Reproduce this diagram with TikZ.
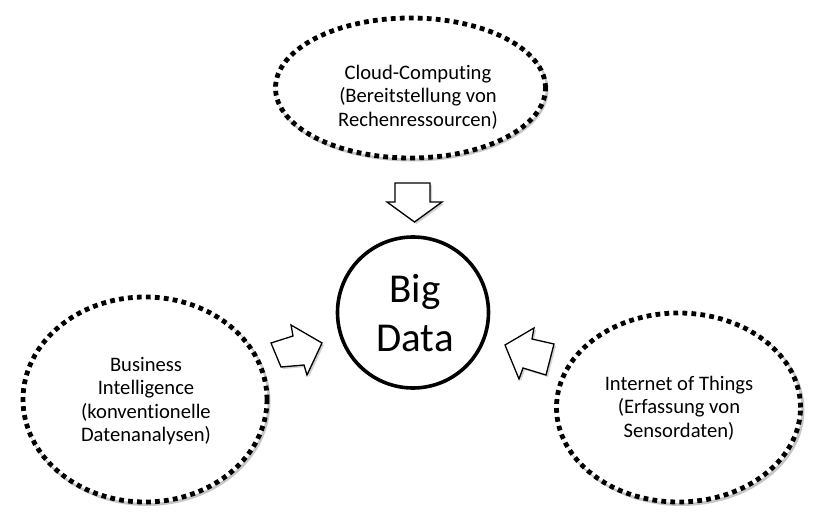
\documentclass[tikz,border=0pt]{standalone}
\usepackage{fontspec}
\setmainfont[Ligatures=NoCommon]{Carlito}
\usetikzlibrary{shapes.geometric}
\begin{document}
\begin{tikzpicture}[x=1pt,y=-1pt,
  cloud/.style={ellipse, draw=black, line width=4.8pt, dash pattern=on 4.8pt off 4.2pt, fill=white, inner sep=0pt},
  cloudtext/.style={align=center, inner sep=0pt, font=\fontsize{20.6}{23.5}\selectfont},
  shade/.style={ellipse, draw=black!22, line width=3pt, inner sep=0pt},
  core/.style={circle, draw=black, line width=3.6pt, fill=white, inner sep=0pt},
  coretext/.style={align=center, inner sep=0pt, font=\fontsize{41}{49}\selectfont},
  blockarrow/.style={draw=black, line width=1.3pt, fill=white, line join=miter},
  arrowshade/.style={fill=black!18, draw=none}]
\useasboundingbox (0,0) rectangle (820,516);
\fill[white] (0,0) rectangle (820,516);
% shadows of ellipses
\node[shade, minimum width=270pt, minimum height=140pt] at (412,90) {};
\node[shade, minimum width=244pt, minimum height=205pt] at (147,402) {};
\node[shade, minimum width=244pt, minimum height=189pt] at (681,410) {};
% ellipses
\node[cloud, minimum width=270pt, minimum height=140pt] (cc) at (410.5,88) {};
\node[cloud, minimum width=244pt, minimum height=205pt] (bi) at (145,399.5) {};
\node[cloud, minimum width=244pt, minimum height=189pt] (iot) at (678.5,407.5) {};
\node[cloudtext] (cct) at (418,97) {Cloud-Computing\\(Bereitstellung von\\Rechenressourcen)};
\node[cloudtext] (bit) at (146,401) {Business\\Intelligence\\(konventionelle\\Datenanalysen)};
\node[cloudtext] (iott) at (679,408) {Internet of Things\\(Erfassung von\\Sensordaten)};
% central circle
\node[core, minimum size=151pt] (bd) at (413,312.5) {};
\node[coretext] (bdt) at (415,313) {Big\\Data};
% block arrows: shadows
\fill[arrowshade, shift={(2,2)}] (395,183) -- (430,183) -- (430,202) -- (442,202) -- (414.5,222) -- (387,202) -- (395,202) -- cycle;
\fill[arrowshade, shift={(2,2)}] (271,343) -- (293,336) -- (291,325) -- (322,343) -- (307,375) -- (304,365) -- (281,367) -- cycle;
\fill[arrowshade, shift={(2,2)}] (554,344) -- (532,339) -- (534,328) -- (505,345) -- (519,379) -- (523,368) -- (546,375) -- cycle;
% block arrows
\draw[blockarrow] (395,183) -- (430,183) -- (430,202) -- (442,202) -- (414.5,222) -- (387,202) -- (395,202) -- cycle;
\draw[blockarrow] (271,343) -- (293,336) -- (291,325) -- (322,343) -- (307,375) -- (304,365) -- (281,367) -- cycle;
\draw[blockarrow] (554,344) -- (532,339) -- (534,328) -- (505,345) -- (519,379) -- (523,368) -- (546,375) -- cycle;
\end{tikzpicture}
\end{document}
